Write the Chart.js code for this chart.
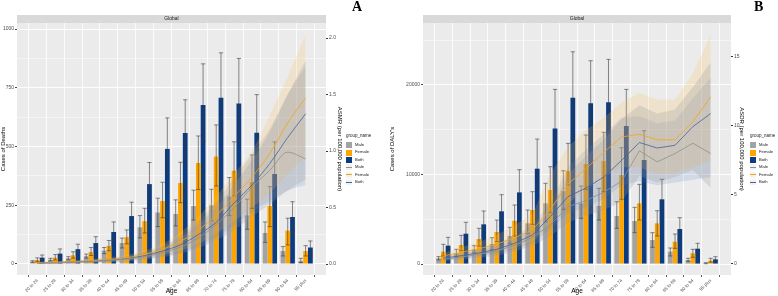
<!DOCTYPE html>
<html>
<head>
<meta charset="utf-8">
<script src="https://cdn.jsdelivr.net/npm/chart.js@4.4.1/dist/chart.umd.min.js"></script>
<style>
  body { margin: 0; background: #fff; width: 778px; height: 296px; overflow: hidden; font-family: 'Liberation Sans', Arial, sans-serif; }
  .panel { position: absolute; top: 0; width: 389px; height: 296px; }
  .panel canvas { position: absolute; left: 0; top: 0; }
  .tag { position: absolute; top: -1px; font: bold 14px 'Liberation Serif', 'DejaVu Serif', serif; color: #000; }
  .legend { position: absolute; top: 134px; font-size: 4.2px; color: #1a1a1a; line-height: 1; white-space: nowrap; }
  .legend .ttl { font-size: 4.5px; height: 7.5px; }
  .legend .row { display: flex; align-items: center; height: 7.4px; }
  .legend .key { width: 6px; height: 6px; margin-right: 3px; background: #f2f2f2; position: relative; }
  .legend .key i { position: absolute; left: 0; right: 0; top: 2.6px; height: 0.8px; }
</style>
</head>
<body>
<div class="panel" style="left:0"><canvas id="chartA" width="389" height="296"></canvas></div>
<div class="panel" style="left:389px"><canvas id="chartB" width="389" height="296"></canvas></div>

<script>
'use strict';

/* ── Categories ─────────────────────────────────────────────────────────── */
const AGES = ['20 to 24', '25 to 29', '30 to 34', '35 to 39', '40 to 44', '45 to 49', '50 to 54', '55 to 59',
              '60 to 64', '65 to 69', '70 to 74', '75 to 79', '80 to 84', '85 to 89', '90 to 94', '95 plus'];
const GROUPS = ['Male', 'Female', 'Both'];

/* ── Panel A: cases of deaths (bars) ────────────────────────────────────── */
const DEATHS_MALE      = [10, 18, 24, 33, 57, 89, 156, 219, 213, 247, 250, 287, 207, 132, 55, 13];
const DEATHS_MALE_HI   = [14, 24, 31, 42, 70, 110, 206, 280, 273, 314, 318, 368, 276, 179, 74, 24];
const DEATHS_MALE_LO   = [7, 13, 18, 25, 44, 68, 111, 159, 162, 187, 184, 206, 148, 92, 34, 6];
const DEATHS_FEMALE    = [17, 27, 37, 51, 77, 114, 182, 268, 345, 430, 457, 397, 349, 247, 142, 55];
const DEATHS_FEMALE_HI = [26, 40, 52, 70, 100, 145, 237, 348, 433, 545, 592, 520, 464, 329, 195, 78];
const DEATHS_FEMALE_LO = [10, 17, 25, 36, 56, 86, 132, 197, 261, 317, 332, 290, 237, 159, 81, 34];
const DEATHS_BOTH      = [27, 44, 63, 89, 136, 204, 340, 490, 558, 677, 708, 683, 559, 383, 200, 70];
const DEATHS_BOTH_HI   = [38, 64, 84, 116, 179, 263, 432, 622, 699, 852, 899, 875, 721, 520, 265, 98];
const DEATHS_BOTH_LO   = [18, 31, 46, 66, 100, 152, 262, 380, 430, 520, 545, 520, 386, 251, 119, 38];

/* ── Panel A: ASMR (lines + ribbons) ────────────────────────────────────── */
const ASMR_MALE      = [0.008, 0.01, 0.015, 0.02, 0.03, 0.045, 0.065, 0.1, 0.15, 0.23, 0.35, 0.5, 0.68, 0.83, 0.99, 0.93];
const ASMR_MALE_HI   = [0.015, 0.02, 0.027, 0.035, 0.05, 0.065, 0.1, 0.15, 0.23, 0.35, 0.5, 0.7, 0.92, 1.17, 1.5, 1.8];
const ASMR_MALE_LO   = [0.0, 0.003, 0.006, 0.01, 0.015, 0.025, 0.04, 0.06, 0.09, 0.14, 0.21, 0.3, 0.42, 0.53, 0.65, 0.75];
const ASMR_FEMALE    = [0.01, 0.015, 0.02, 0.03, 0.04, 0.055, 0.085, 0.13, 0.2, 0.3, 0.43, 0.6, 0.77, 0.98, 1.25, 1.47];
const ASMR_FEMALE_HI = [0.02, 0.025, 0.033, 0.045, 0.06, 0.08, 0.12, 0.18, 0.28, 0.42, 0.6, 0.8, 1.0, 1.32, 1.66, 2.03];
const ASMR_FEMALE_LO = [0.0, 0.005, 0.01, 0.015, 0.022, 0.03, 0.05, 0.08, 0.12, 0.18, 0.27, 0.38, 0.5, 0.63, 0.8, 0.95];
const ASMR_BOTH      = [0.01, 0.013, 0.018, 0.025, 0.035, 0.05, 0.075, 0.115, 0.17, 0.26, 0.37, 0.54, 0.7, 0.89, 1.12, 1.33];
const ASMR_BOTH_HI   = [0.018, 0.022, 0.03, 0.04, 0.055, 0.07, 0.11, 0.16, 0.25, 0.38, 0.55, 0.76, 0.97, 1.2, 1.5, 1.75];
const ASMR_BOTH_LO   = [0.0, 0.004, 0.008, 0.012, 0.018, 0.028, 0.045, 0.07, 0.1, 0.16, 0.24, 0.34, 0.46, 0.56, 0.65, 0.7];

/* ── Panel B: cases of DALYs (bars) ─────────────────────────────────────── */
const DALYS_MALE      = [633, 1200, 1640, 2234, 3128, 4544, 6780, 8154, 6780, 6480, 5360, 4800, 2680, 1377, 447, 78];
const DALYS_MALE_HI   = [820, 1638, 2048, 2940, 4100, 6030, 9014, 10420, 8713, 8455, 6960, 6330, 3500, 1787, 637, 145];
const DALYS_MALE_LO   = [450, 800, 1250, 1600, 2310, 3427, 4725, 6110, 5100, 4915, 3990, 3500, 1865, 894, 290, 30];
const DALYS_FEMALE    = [1377, 2122, 2793, 3574, 4840, 6032, 8266, 10390, 11170, 11500, 9940, 6780, 4544, 2495, 1195, 370];
const DALYS_FEMALE_HI = [2197, 3200, 3984, 4915, 6590, 8080, 10870, 13480, 14410, 14710, 12990, 8900, 5950, 3350, 1640, 637];
const DALYS_FEMALE_LO = [900, 1500, 2000, 2495, 3128, 4431, 5730, 8825, 8344, 8080, 7227, 4915, 3128, 1750, 750, 200];
const DALYS_BOTH      = [2048, 3386, 4431, 5885, 8000, 10650, 15150, 18580, 17950, 18060, 15416, 11617, 7227, 3910, 1710, 525];
const DALYS_BOTH_HI   = [2980, 4655, 5920, 7744, 10535, 13960, 19510, 23710, 22710, 22860, 19510, 14890, 9460, 5170, 2310, 815];
const DALYS_BOTH_LO   = [1564, 2310, 3240, 4282, 5920, 8567, 11430, 14040, 13740, 13740, 11900, 8634, 5100, 2760, 1080, 350];

/* ── Panel B: ASDR (lines + ribbons) ────────────────────────────────────── */
const ASDR_MALE      = [0.34, 0.5, 0.7, 0.95, 1.35, 1.93, 2.83, 4.15, 4.6, 5.2, 6.0, 8.2, 7.4, 8.0, 8.75, 8.0];
const ASDR_MALE_HI   = [0.5, 0.75, 1.0, 1.3, 1.8, 2.5, 3.8, 6.5, 7.8, 9.0, 10.5, 11.5, 10.9, 11.2, 12.8, 14.6];
const ASDR_MALE_LO   = [0.2, 0.3, 0.45, 0.6, 0.9, 1.3, 2.0, 3.0, 3.5, 3.9, 4.5, 6.4, 5.9, 6.3, 6.8, 5.5];
const ASDR_FEMALE    = [0.58, 0.85, 1.1, 1.43, 1.9, 2.46, 3.96, 5.8, 6.9, 8.1, 9.2, 9.4, 9.0, 9.0, 10.3, 12.1];
const ASDR_FEMALE_HI = [0.8, 1.2, 1.6, 2.1, 2.8, 3.6, 6.5, 8.5, 9.7, 10.6, 11.7, 12.4, 11.9, 11.9, 13.8, 16.6];
const ASDR_FEMALE_LO = [0.4, 0.55, 0.7, 0.9, 1.2, 1.6, 2.9, 4.4, 5.4, 6.3, 7.0, 7.0, 6.5, 6.6, 7.0, 7.5];
const ASDR_BOTH      = [0.41, 0.6, 0.8, 1.06, 1.5, 2.1, 3.43, 4.88, 5.5, 6.3, 7.5, 8.8, 8.4, 8.6, 9.95, 10.9];
const ASDR_BOTH_HI   = [0.6, 0.85, 1.1, 1.5, 2.0, 2.8, 4.4, 7.0, 8.3, 9.4, 10.6, 10.7, 10.2, 10.4, 12.0, 13.5];
const ASDR_BOTH_LO   = [0.25, 0.4, 0.55, 0.75, 1.05, 1.5, 2.5, 3.7, 4.1, 4.7, 5.7, 6.0, 5.7, 5.9, 6.1, 6.3];

/* ── Axis ticks ─────────────────────────────────────────────────────────── */
const DEATH_TICKS = [0, 250, 500, 750, 1000];
const ASMR_TICKS  = [0, 0.5, 1.0, 1.5, 2.0];
const DALY_TICKS  = [0, 10000, 20000];
const ASDR_TICKS  = [0, 5, 10, 15];

/* ── Styling ────────────────────────────────────────────────────────────── */
const BAR_COLORS  = ['#a3a3a3', '#ffa500', '#0b3b80'];
const LINE_COLORS = ['#8f8f8f', '#f5a31a', '#3d63a0'];
const BAND_COLORS = ['rgba(150,150,150,0.25)', 'rgba(255,190,80,0.2)', 'rgba(80,120,190,0.16)'];
const FONT = "'Liberation Sans', Arial, sans-serif";

Chart.defaults.font.family = FONT;

/* ── Plugins ────────────────────────────────────────────────────────────── */
const panelBg = {
    id: 'panelBg',
    beforeDraw(chart) {
        const { ctx, chartArea: a } = chart;
        ctx.save();
        ctx.fillStyle = '#ebebeb';
        ctx.fillRect(a.left, a.top, a.right - a.left, a.bottom - a.top);
        ctx.fillStyle = '#d9d9d9';
        ctx.fillRect(a.left, a.top - 8, a.right - a.left, 8);
        ctx.fillStyle = '#1a1a1a';
        ctx.font = '5px ' + FONT;
        ctx.textAlign = 'center';
        ctx.textBaseline = 'middle';
        ctx.fillText('Global', (a.left + a.right) / 2, a.top - 4);
        ctx.restore();
    },
};

const errorBars = {
    id: 'errorBars',
    afterDatasetDraw(chart, args) {
        const ds = chart.data.datasets[args.index];
        if (!ds.errHi) return;
        const ctx = chart.ctx, y = chart.scales.y;
        ctx.save();
        ctx.strokeStyle = '#3a3a3a';
        ctx.lineWidth = 0.6;
        args.meta.data.forEach((bar, i) => {
            const hw = bar.width * 0.45;
            const top = y.getPixelForValue(ds.errHi[i]);
            const bot = y.getPixelForValue(ds.errLo[i]);
            ctx.beginPath();
            ctx.moveTo(bar.x, top); ctx.lineTo(bar.x, bot);
            ctx.moveTo(bar.x - hw, top); ctx.lineTo(bar.x + hw, top);
            ctx.moveTo(bar.x - hw, bot); ctx.lineTo(bar.x + hw, bot);
            ctx.stroke();
        });
        ctx.restore();
    },
};

/* ── Panel builder ──────────────────────────────────────────────────────── */
function withMinors(majors, max) {
    const step = majors[1] - majors[0];
    const all = [];
    majors.forEach(v => {
        all.push(v);
        if (v + step / 2 <= max) all.push(v + step / 2);
    });
    return all;
}

function buildPanel(id, o) {
    const pts = arr => arr.map((v, i) => ({ x: i, y: v }));
    const curve = o.smooth ? { cubicInterpolationMode: 'monotone' } : { tension: 0 };

    const datasets = [];
    o.bars.forEach((b, k) => datasets.push({
        type: 'bar', label: GROUPS[k], data: pts(b.v), errHi: b.hi, errLo: b.lo,
        backgroundColor: BAR_COLORS[k], yAxisID: 'y', order: 3,
        barPercentage: 1.0, categoryPercentage: 0.8,
    }));
    o.lines.forEach((l, k) => {
        datasets.push({
            type: 'line', data: pts(l.hi), yAxisID: 'y2', order: 2, fill: '+1',
            backgroundColor: BAND_COLORS[k], borderColor: 'rgba(0,0,0,0)', borderWidth: 0, pointRadius: 0, ...curve,
        });
        datasets.push({
            type: 'line', data: pts(l.lo), yAxisID: 'y2', order: 2, fill: false,
            borderColor: 'rgba(0,0,0,0)', borderWidth: 0, pointRadius: 0, ...curve,
        });
    });
    o.lines.forEach((l, k) => datasets.push({
        type: 'line', label: GROUPS[k], data: pts(l.v), yAxisID: 'y2', order: 1, fill: false,
        borderColor: LINE_COLORS[k], borderWidth: 0.8, pointRadius: 0, ...curve,
    }));

    const yTicks = withMinors(o.yTicks, o.yMax);
    const isMajor = v => o.yTicks.includes(v);

    return new Chart(document.getElementById(id), {
        data: { datasets },
        plugins: [panelBg, errorBars],
        options: {
            responsive: false,
            animation: false,
            events: [],
            layout: { autoPadding: false, padding: { left: 0, top: 23, right: o.padRight, bottom: 0 } },
            plugins: { legend: { display: false }, tooltip: { enabled: false } },
            scales: {
                x: {
                    type: 'linear', min: -0.6, max: AGES.length - 0.4,
                    afterBuildTicks: s => { s.ticks = AGES.map((_, i) => ({ value: i })); },
                    afterFit: s => { s.height = 21; },
                    ticks: {
                        callback: v => AGES[v], autoSkip: false, minRotation: 45, maxRotation: 45,
                        font: { size: 4.5 }, color: '#4d4d4d', padding: 1,
                    },
                    grid: { color: '#ffffff', lineWidth: 0.8, tickLength: 2, tickColor: '#333' },
                    border: { display: false },
                    title: { display: true, text: 'Age', font: { size: 6.5 }, color: '#000', padding: { top: 0, bottom: 1 } },
                },
                y: {
                    position: 'left', min: o.yMin, max: o.yMax,
                    afterBuildTicks: s => { s.ticks = yTicks.map(v => ({ value: v })); },
                    afterFit: s => { s.width = o.leftW; },
                    ticks: { callback: v => (isMajor(v) ? String(v) : ''), font: { size: 5 }, color: '#4d4d4d', padding: 1 },
                    grid: {
                        color: '#ffffff', tickLength: 2,
                        lineWidth: c => (c.tick && isMajor(c.tick.value) ? 0.9 : 0.45),
                        tickColor: c => (c.tick && isMajor(c.tick.value) ? '#333' : 'rgba(0,0,0,0)'),
                    },
                    border: { display: false },
                    title: { display: true, text: o.yTitle, font: { size: 6 }, color: '#000', padding: { top: 0, bottom: 0 } },
                },
                y2: {
                    position: 'right', min: o.y2Min, max: o.y2Max,
                    afterBuildTicks: s => { s.ticks = o.y2Ticks.map(v => ({ value: v })); },
                    afterFit: s => { s.width = o.rightW; },
                    ticks: { callback: o.y2Fmt, font: { size: 5 }, color: '#4d4d4d', padding: 1 },
                    grid: { drawOnChartArea: false, tickLength: 2, tickColor: '#333' },
                    border: { display: false },
                    title: { display: true, text: o.y2Title, font: { size: 6 }, color: '#000', padding: { top: 0, bottom: 0 } },
                },
            },
        },
    });
}

function buildLegend(panel, left) {
    const box = document.createElement('div');
    box.className = 'legend';
    box.style.left = left + 'px';
    let html = '<div class="ttl">group_name</div>';
    GROUPS.forEach((g, k) => {
        html += `<div class="row"><span class="key" style="background:${BAR_COLORS[k]}"></span>${g}</div>`;
    });
    GROUPS.forEach((g, k) => {
        html += `<div class="row"><span class="key"><i style="background:${LINE_COLORS[k]}"></i></span>${g}</div>`;
    });
    box.innerHTML = html;
    panel.appendChild(box);
}

function addTag(panel, text, left) {
    const t = document.createElement('div');
    t.className = 'tag';
    t.style.left = left + 'px';
    t.textContent = text;
    panel.appendChild(t);
}

/* ── Build ──────────────────────────────────────────────────────────────── */
buildPanel('chartA', {
    smooth: true,
    leftW: 17, rightW: 17, padRight: 46,
    yMin: -47, yMax: 1026, yTicks: DEATH_TICKS, yTitle: 'Cases of Deaths',
    y2Min: -0.097, y2Max: 2.133, y2Ticks: ASMR_TICKS, y2Fmt: v => v.toFixed(1),
    y2Title: 'ASMR (per 100,000 population)',
    bars: [
        { v: DEATHS_MALE, hi: DEATHS_MALE_HI, lo: DEATHS_MALE_LO },
        { v: DEATHS_FEMALE, hi: DEATHS_FEMALE_HI, lo: DEATHS_FEMALE_LO },
        { v: DEATHS_BOTH, hi: DEATHS_BOTH_HI, lo: DEATHS_BOTH_LO },
    ],
    lines: [
        { v: ASMR_MALE, hi: ASMR_MALE_HI, lo: ASMR_MALE_LO },
        { v: ASMR_FEMALE, hi: ASMR_FEMALE_HI, lo: ASMR_FEMALE_LO },
        { v: ASMR_BOTH, hi: ASMR_BOTH_HI, lo: ASMR_BOTH_LO },
    ],
});

buildPanel('chartB', {
    smooth: false,
    leftW: 34, rightW: 14, padRight: 33,
    yMin: -1229, yMax: 26927, yTicks: DALY_TICKS, yTitle: "Cases of DALY's",
    y2Min: -0.8, y2Max: 17.46, y2Ticks: ASDR_TICKS, y2Fmt: v => String(v),
    y2Title: 'ASDR (per 100,000 population)',
    bars: [
        { v: DALYS_MALE, hi: DALYS_MALE_HI, lo: DALYS_MALE_LO },
        { v: DALYS_FEMALE, hi: DALYS_FEMALE_HI, lo: DALYS_FEMALE_LO },
        { v: DALYS_BOTH, hi: DALYS_BOTH_HI, lo: DALYS_BOTH_LO },
    ],
    lines: [
        { v: ASDR_MALE, hi: ASDR_MALE_HI, lo: ASDR_MALE_LO },
        { v: ASDR_FEMALE, hi: ASDR_FEMALE_HI, lo: ASDR_FEMALE_LO },
        { v: ASDR_BOTH, hi: ASDR_BOTH_HI, lo: ASDR_BOTH_LO },
    ],
});

const panels = document.querySelectorAll('.panel');
buildLegend(panels[0], 346);
buildLegend(panels[1], 361);
addTag(panels[0], 'A', 352);
addTag(panels[1], 'B', 365);
</script>
</body>
</html>
